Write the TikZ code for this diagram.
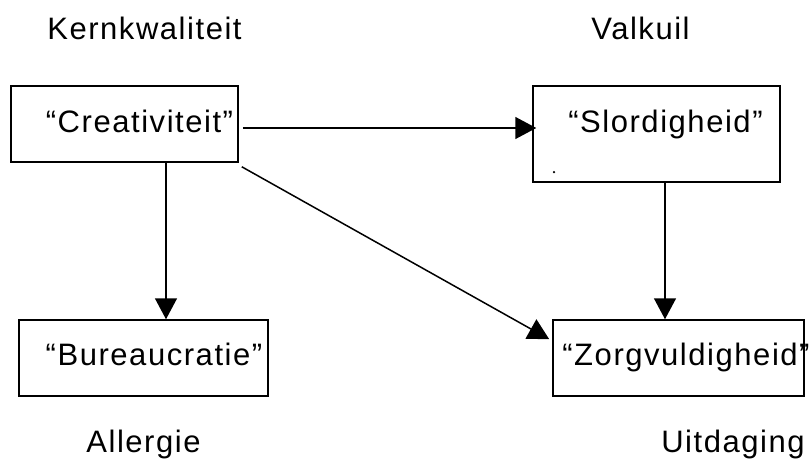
\documentclass[tikz,border=0pt]{standalone}
\usepackage{fontspec}
\setmainfont[LetterSpace=5]{Liberation Sans}
\usetikzlibrary{arrows.meta}
\tikzset{
  box/.style={draw, line width=1.5pt, rectangle, inner sep=0pt},
  txt/.style={inner sep=0pt, anchor=base, font=\fontsize{31}{36}\selectfont},
  arr/.style={line width=1.5pt, -{Triangle[length=21pt,width=22pt]}},
  ln/.style={line width=1.5pt}
}
\begin{document}
\begin{tikzpicture}[x=1pt,y=-1pt]
\useasboundingbox (0,0) rectangle (809,459);
% boxes
\node[box, minimum width=227pt, minimum height=76pt] (A) at (124.5,124) {};
\node[box, minimum width=247pt, minimum height=96pt] (B) at (656.5,134) {};
\node[box, minimum width=249pt, minimum height=76pt] (C) at (143.5,358) {};
\node[box, minimum width=251pt, minimum height=76pt] (D) at (678.5,358) {};
% box texts
\node[txt] (At) at (139.5,132) {“Creativiteit”};
\node[txt] (Bt) at (665.5,132) {“Slordigheid”};
\node[txt] (Ct) at (154,365) {“Bureaucratie”};
\node[txt] (Dt) at (686,365) {“Zorgvuldigheid”};
\node[circle, fill, inner sep=0pt, minimum size=2.5pt] (dot) at (554,172) {};
% labels
\node[txt] (L1) at (144.5,39) {Kernkwaliteit};
\node[txt] (L2) at (640.5,39) {Valkuil};
\node[txt] (L3) at (143.5,452) {Allergie};
\node[txt] (L4) at (733,452) {Uitdaging};
% connectors
\draw[arr] ([shift={(4,4)}]A.east) -- ([shift={(4,4)}]A.east -| B.west);
\draw[arr] ([xshift=41.5pt]A.south) -- ([xshift=41.5pt]A.south |- C.north);
\draw[arr] ([xshift=8.5pt]B.south) -- ([xshift=8.5pt]B.south |- D.north);
\draw[arr] ([shift={(3,4)}]A.south east) -- ([shift={(-3,20)}]D.north west);
\end{tikzpicture}
\end{document}
